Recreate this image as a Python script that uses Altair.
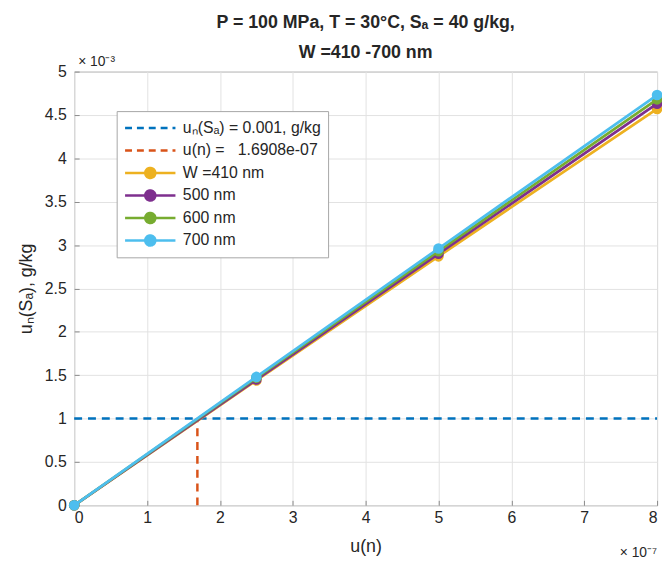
import altair as alt
import pandas as pd

# ---------------- data (x in units of 1e-7, y in units of 1e-3 g/kg) ----------------
u_n = [0.0, 2.5, 5.0, 8.0]
series_labels = ["W =410 nm", "500 nm", "600 nm", "700 nm"]
y_410 = [0.0, 1.44, 2.87, 4.57]
y_500 = [0.0, 1.45, 2.90, 4.63]
y_600 = [0.0, 1.47, 2.93, 4.68]
y_700 = [0.0, 1.48, 2.96, 4.73]
series_values = [y_410, y_500, y_600, y_700]

ref_level = 1.0          # u_n(S_A) = 0.001 g/kg
ref_un = 1.6908          # u(n) = 1.6908e-07
x_ticks = [0, 1, 2, 3, 4, 5, 6, 7, 8]
y_ticks = [0, 0.5, 1, 1.5, 2, 2.5, 3, 3.5, 4, 4.5, 5]

lab_h = "uₙ(Sₐ) = 0.001, g/kg"
lab_v = "u(n) =\u00a0\u00a0\u00a01.6908e-07"
all_labels = [lab_h, lab_v] + series_labels
colors = ["#0072BD", "#D95319", "#EDB120", "#7E2F8E", "#77AC30", "#4DBEEE"]

FONT = "Liberation Sans"
TXT = "#262626"
W, H = 590, 439

xs = alt.Scale(domain=[0, 8], nice=False)
ys = alt.Scale(domain=[0, 5], nice=False)

line_circle = "M-1,0H-0.2M0.2,0H1M-0.2,0A0.2,0.2,0,1,0,0.2,0A0.2,0.2,0,1,0,-0.2,0Z"
is_dash = f"(datum.value === '{lab_h}' || datum.value === '{lab_v}')"

legend = alt.Legend(
    title=None, orient="none", legendX=43, legendY=40,
    fillColor="white", strokeColor="#a6a6a6", padding=7,
    labelFont=FONT, labelFontSize=16, labelColor=TXT, labelOffset=6,
    symbolSize=2600, symbolStrokeWidth=2.5, clipHeight=20, rowPadding=2.8,
    symbolType={"expr": f"{is_dash} ? 'stroke' : '{line_circle}'"},
    symbolDash={"expr": f"{is_dash} ? [7, 5] : [1, 0]"},
    symbolFillColor={"expr": f"{is_dash} ? 'transparent' : scale('color', datum.value)"},
)


def color_enc():
    return alt.Color("label:N", scale=alt.Scale(domain=all_labels, range=colors), legend=legend)


x_axis = alt.Axis(values=x_ticks, title="u(n)", format="~g", offset=-5, tickSize=5,
                  labelPadding=4, titleY=52, titleBaseline="alphabetic")
y_axis = alt.Axis(values=y_ticks, title="uₙ(Sₐ), g/kg", format="~g", offset=-5, tickSize=5,
                  labelPadding=8, titleX=-53, titleY=H / 2, titleAngle=-90,
                  titleBaseline="middle", titleAlign="center")

href = pd.DataFrame({"x": [0.0], "x2": [8.0], "y": [ref_level], "label": [lab_h]})
vref = pd.DataFrame({"x": [ref_un], "y": [0.0], "y2": [ref_level], "label": [lab_v]})

h_layer = alt.Chart(href).mark_rule(strokeWidth=2.5, strokeDash=[8, 6]).encode(
    x=alt.X("x:Q", scale=xs, axis=x_axis), x2="x2:Q",
    y=alt.Y("y:Q", scale=ys, axis=y_axis), color=color_enc())
v_layer = alt.Chart(vref).mark_rule(strokeWidth=2.5, strokeDash=[8, 6]).encode(
    x=alt.X("x:Q", scale=xs), y=alt.Y("y:Q", scale=ys), y2="y2:Q", color=color_enc())

layers = [h_layer, v_layer]
for lab, vals in zip(series_labels, series_values):
    df = pd.DataFrame({"x": u_n, "y": vals, "label": lab})
    base = alt.Chart(df).encode(x=alt.X("x:Q", scale=xs), y=alt.Y("y:Q", scale=ys), color=color_enc())
    layers.append(base.mark_line(strokeWidth=2.8))
    layers.append(base.mark_circle(size=115, opacity=1))

exp_y = alt.Chart(pd.DataFrame({"t": ["× 10⁻³"]})).mark_text(
    font=FONT, fontSize=14, color=TXT, align="left", baseline="alphabetic").encode(
    x=alt.value(4), y=alt.value(-6), text="t:N")
exp_x = alt.Chart(pd.DataFrame({"t": ["× 10⁻⁷"]})).mark_text(
    font=FONT, fontSize=14, color=TXT, align="right", baseline="alphabetic").encode(
    x=alt.value(W), y=alt.value(H + 52), text="t:N")
layers += [exp_y, exp_x]

chart = alt.layer(*layers).properties(
    width=W, height=H,
    autosize=alt.AutoSizeParams(type="none"),
    padding={"left": 67, "top": 61, "right": 5, "bottom": 52},
    title=alt.TitleParams(
        ["P = 100 MPa, T = 30°C, Sₐ = 40 g/kg,", "W =410 -700 nm"],
        font=FONT, fontSize=18, fontWeight="bold", color=TXT, frame="group",
        anchor="middle", baseline="alphabetic", offset=13, lineHeight=30, dy=34),
).configure_view(stroke="#9a9a9a", strokeWidth=1).configure_axis(
    grid=True, gridColor="#e2e2e2", gridWidth=1, domain=False,
    tickColor="#8a8a8a", labelFont=FONT, labelFontSize=16, labelColor=TXT,
    titleFont=FONT, titleFontSize=18, titleColor=TXT, titleFontWeight="normal",
)

chart.save("out.html", embed_options={"renderer": "svg", "actions": False})
